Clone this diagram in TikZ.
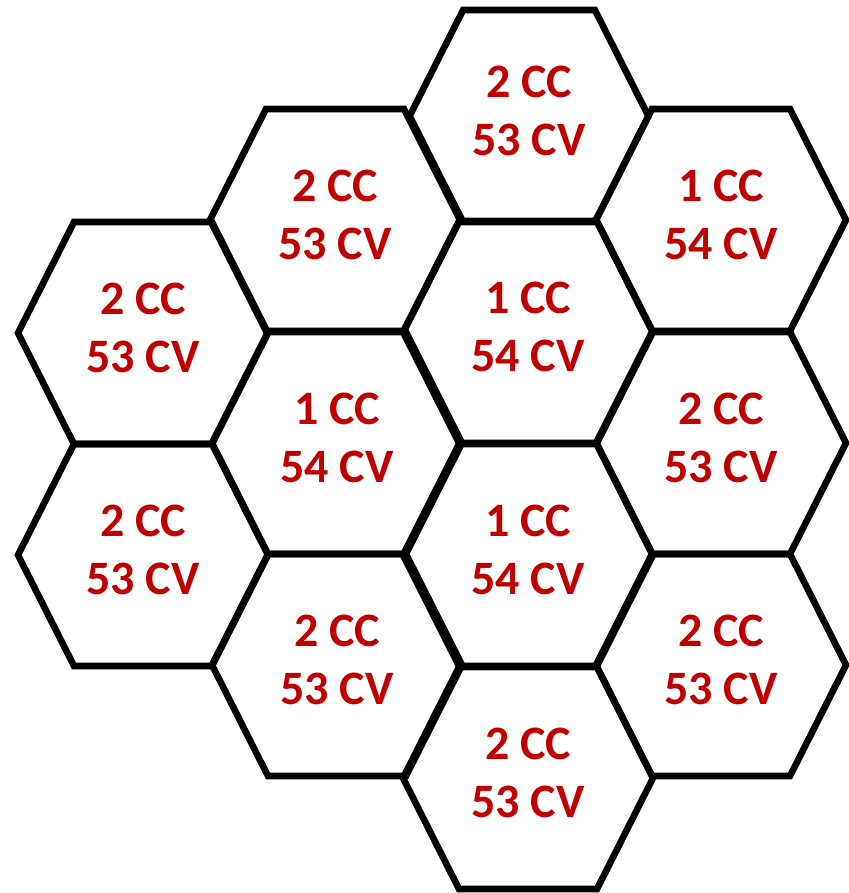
\documentclass[tikz,border=0pt]{standalone}
\usepackage{fontspec}
\setmainfont{Carlito}
\definecolor{cellred}{HTML}{C00000}
\tikzset{
    cell/.style={line width=3.3pt, line join=miter},
    count/.style={text=cellred, font=\bfseries\fontsize{24}{29}\selectfont,
                  align=center, inner sep=0pt},
}
\begin{document}
\begin{tikzpicture}[x=0.5pt, y=-0.5pt]
    \useasboundingbox (0,0) rectangle (848,893);
    % half width, half height and half top edge of one cell
    \def\hw{125}
    \def\hh{111}
    \def\he{69}

    % cells: centre x / centre y / size / CC / CV
    \foreach \cx/\cy/\s/\nc/\nv [count=\i] in {
        143/333/1/2/53, 143/555/1/2/53,
        335/220/1/2/53, 337/443/1/1/54, 337/665/1/2/53,
        529/116/0.955/2/53, 528/332/1/1/54, 528/555/1/1/54, 528/778/1/2/53,
        721/220/1/1/54, 721/443/1/2/53, 721/665/1/2/53}{
        \draw[cell] (\cx-\s*\hw, \cy) -- (\cx-\s*\he, \cy-\s*\hh)
            -- (\cx+\s*\he, \cy-\s*\hh) -- (\cx+\s*\hw, \cy)
            -- (\cx+\s*\he, \cy+\s*\hh) -- (\cx-\s*\he, \cy+\s*\hh) -- cycle;
        \node[count] (cell\i) at (\cx, \cy-5) {\nc\ CC\\\nv\ CV};
    }
\end{tikzpicture}
\end{document}
